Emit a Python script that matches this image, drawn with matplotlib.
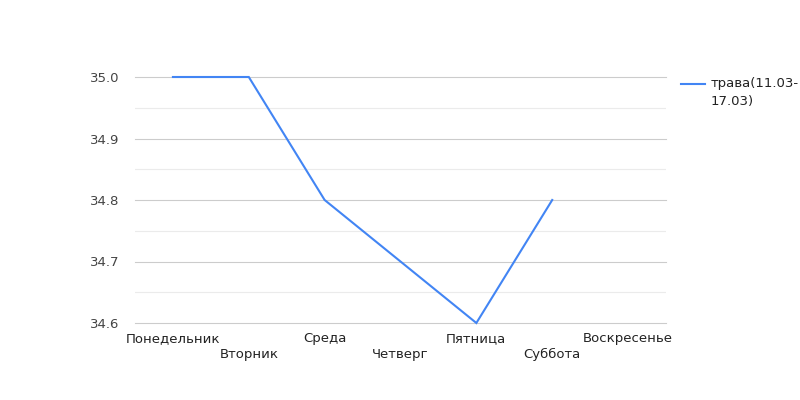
import numpy as np
import matplotlib.pyplot as plt

# days of the week and readings
days = ['Понедельник', 'Вторник', 'Среда', 'Четверг', 'Пятница', 'Суббота', 'Воскресенье']
values = [35.0, 35.0, 34.8, 34.7, 34.6, 34.8, np.nan]
series_name = 'трава(11.03-\n17.03)'
yticks = [34.6, 34.7, 34.8, 34.9, 35.0]

plt.rcParams['font.family'] = ['DejaVu Sans']

fig = plt.figure(figsize=(8, 4), dpi=100)
ax = fig.add_axes([135 / 800, 1 - 323 / 400, (666 - 135) / 800, (323 - 77) / 400])

x = np.arange(len(days))
ax.plot(x, values, color='#4285f4', linewidth=1.5, solid_joinstyle='miter',
        zorder=3, clip_on=False)

ax.set_xlim(-0.5, len(days) - 0.5)
ax.set_ylim(34.6, 35.0)

# major and minor gridlines
for y in yticks:
    ax.axhline(y, color='#cccccc', linewidth=0.8, zorder=1, clip_on=False)
for y in np.arange(34.65, 35.0, 0.1):
    ax.axhline(y, color='#ebebeb', linewidth=0.8, zorder=0)

ax.set_yticks(yticks)
ax.set_yticklabels(['%.1f' % v for v in yticks], fontsize=9.5, color='#444444')
ax.tick_params(axis='y', length=0, pad=11)

ax.set_xticks(x)
ax.set_xticklabels([])
ax.tick_params(axis='x', length=0)
for i, d in enumerate(days):
    off = 11.5 if i % 2 == 1 else 0
    ax.annotate(d, (i, 34.6), xytext=(0, -6.5 - off), textcoords='offset points',
                ha='center', va='top', fontsize=9.5, color='#222222',
                annotation_clip=False)

for s in ax.spines.values():
    s.set_visible(False)

# legend drawn by hand to match wrapped label
fig.lines.append(plt.Line2D([681 / 800, 705 / 800], [1 - 84 / 400, 1 - 84 / 400],
                            color='#4285f4', linewidth=1.5, transform=fig.transFigure))
fig.text(711 / 800, 1 - 77 / 400, series_name, fontsize=9.5, color='#222222',
         va='top', ha='left', linespacing=1.45)

fig.savefig('out.png', dpi=100)
